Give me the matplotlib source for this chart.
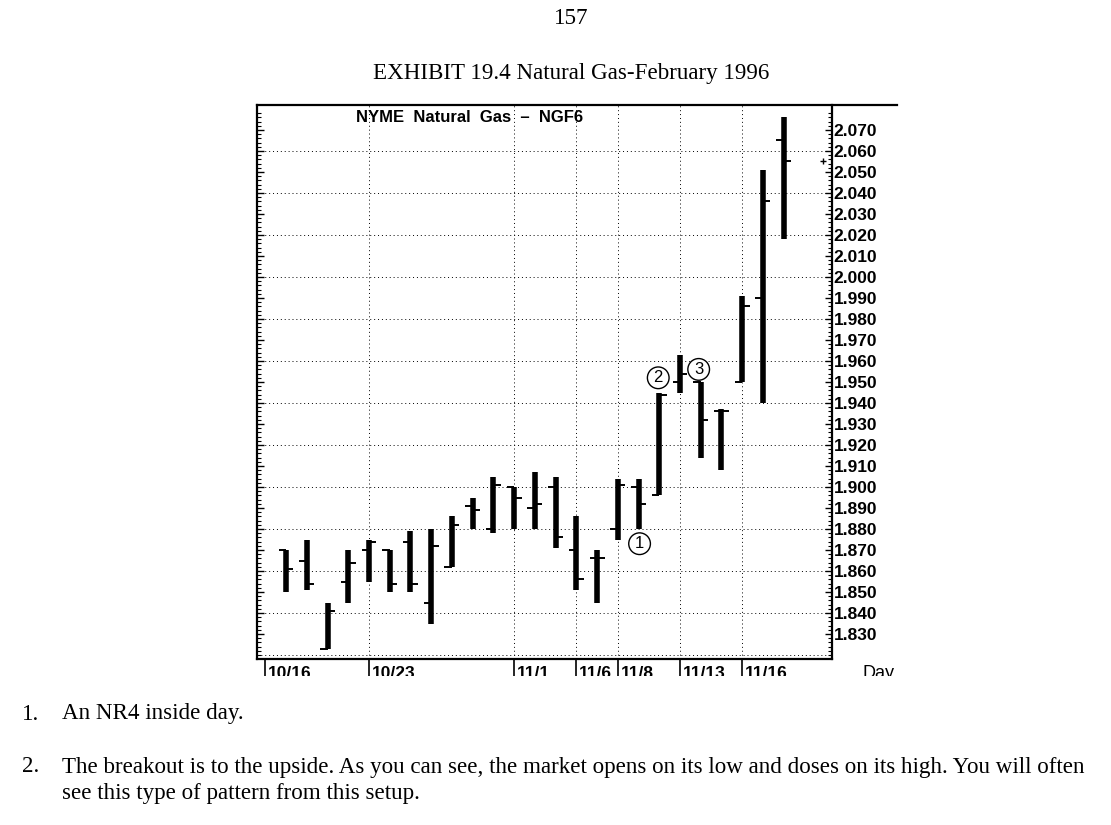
import matplotlib
matplotlib.use('Agg')
import matplotlib.pyplot as plt
import numpy as np
from matplotlib.patches import Rectangle
from matplotlib.lines import Line2D

# trading day index (0 = 10/16), one bar per day from 10/17
days = list(range(1, 26))
opens = [1.870, 1.865, 1.823, 1.855, 1.870, 1.870, 1.874, 1.845, 1.862, 1.891,
         1.880, 1.900, 1.890, 1.900, 1.870, 1.866, 1.880, 1.900, 1.896, 1.950,
         1.950, 1.936, 1.950, 1.990, 2.065]
highs = [1.870, 1.875, 1.845, 1.870, 1.875, 1.870, 1.879, 1.880, 1.886, 1.895,
         1.905, 1.900, 1.907, 1.905, 1.886, 1.870, 1.904, 1.904, 1.945, 1.963,
         1.950, 1.937, 1.991, 2.051, 2.076]
lows = [1.850, 1.851, 1.823, 1.845, 1.855, 1.850, 1.850, 1.835, 1.862, 1.880,
        1.878, 1.880, 1.880, 1.871, 1.851, 1.845, 1.875, 1.880, 1.896, 1.945,
        1.914, 1.908, 1.950, 1.940, 2.018]
closes = [1.861, 1.854, 1.841, 1.864, 1.874, 1.854, 1.854, 1.872, 1.882, 1.889,
          1.901, 1.895, 1.892, 1.876, 1.856, 1.866, 1.901, 1.892, 1.944, 1.954,
          1.932, 1.936, 1.986, 2.036, 2.055]

date_pos = [0, 5, 12, 15, 17, 20, 23]
date_labels = ['10/16', '10/23', '11/1', '11/6', '11/8', '11/13', '11/16']

# circled setup markers: (day, price, label)
marks = [(18.05, 1.873, '1'), (18.95, 1.952, '2'), (20.9, 1.956, '3')]
last_price = 2.055

serif = 'Liberation Serif'
sans = 'Liberation Sans'
fs_page = 16.6

fig = plt.figure(figsize=(11.11, 8.25), dpi=100)
ax = fig.add_axes([257 / 1111, 1 - 659 / 825, 575 / 1111, 554 / 825])

ax.set_xlim(-0.4, 27.33)
ax.set_ylim(1.8181, 2.0819)

# grid
for p in np.arange(1.82, 2.07, 0.02):
    ax.axhline(p, color='black', lw=0.7, ls=(0, (1, 3)), zorder=1)
for d in date_pos[1:]:
    ax.axvline(d, color='black', lw=0.7, ls=(0, (1, 3)), zorder=1)

# bars
ax.vlines(days, lows, highs, color='black', lw=4, zorder=3)
ax.hlines(opens, np.array(days) - 0.36, days, color='black', lw=1.4, zorder=3)
ax.hlines(closes, days, np.array(days) + 0.36, color='black', lw=1.4, zorder=3)

for d, p, t in marks:
    ax.text(d, p, t, ha='center', va='center', fontsize=12, family=sans,
            bbox=dict(boxstyle='circle,pad=0.2', fc='white', ec='black', lw=1), zorder=4)

ax.plot([26.9], [last_price], marker='+', color='black', ms=4, mew=1, clip_on=False)

ax.text(0.37, 0.977, 'NYME  Natural  Gas  \u2013  NGF6', transform=ax.transAxes,
        ha='center', va='center', fontsize=12, fontweight='bold', family=sans)

# axes styling
for s in ['top', 'right', 'left', 'bottom']:
    ax.spines[s].set_linewidth(1.6)
ax.spines['top'].set_visible(False)

ax.yaxis.set_ticks_position('both')
ax.set_yticks(np.round(np.arange(1.83, 2.071, 0.01), 3))
ax.set_yticks(np.arange(1.82, 2.08, 0.002), minor=True)
ax.tick_params(axis='y', which='both', direction='in', labelleft=False, labelright=True,
               left=True, right=True, pad=1)
ax.tick_params(axis='y', which='major', length=5, width=1)
ax.tick_params(axis='y', which='minor', length=3, width=0.8)
ax.yaxis.set_major_formatter(matplotlib.ticker.FormatStrFormatter('%.3f'))
for lbl in ax.get_yticklabels():
    lbl.set_family(sans)
    lbl.set_fontweight('bold')
    lbl.set_fontsize(12.5)

ax.set_xticks(date_pos)
ax.set_xticklabels(date_labels)
ax.tick_params(axis='x', direction='out', length=12, width=1.2, pad=-7)
offset = matplotlib.transforms.ScaledTranslation(3 / 100, 0, fig.dpi_scale_trans)
for lbl in ax.get_xticklabels():
    lbl.set_ha('left')
    lbl.set_family(sans)
    lbl.set_fontweight('bold')
    lbl.set_fontsize(12.5)
    lbl.set_transform(lbl.get_transform() + offset)
fig.text(862 / 1111, 1 - 673 / 825, 'Day', ha='left', va='center', fontsize=13, family=sans)

# top frame line running past the price scale
fig.add_artist(Line2D([257 / 1111, 897 / 1111], [1 - 105 / 825, 1 - 105 / 825],
                      color='black', lw=1.6, transform=fig.transFigure))

# scan cut-off under the date labels
fig.add_artist(Rectangle((240 / 1111, 1 - 700 / 825), 680 / 1111, 24 / 825,
                         transform=fig.transFigure, fc='white', ec='none', zorder=10))

fig.text(571 / 1111, 1 - 19 / 825, '157', ha='center', va='center', fontsize=fs_page, family=serif)
fig.text(571 / 1111, 1 - 74 / 825, 'EXHIBIT 19.4 Natural Gas-February 1996', ha='center',
         va='center', fontsize=fs_page, family=serif)

fig.text(22 / 1111, 1 - 714 / 825, '1.', ha='left', va='center', fontsize=fs_page, family=serif)
fig.text(62 / 1111, 1 - 714 / 825, 'An NR4 inside day.', ha='left', va='center',
         fontsize=fs_page, family=serif)
fig.text(22 / 1111, 1 - 767 / 825, '2.', ha='left', va='center', fontsize=fs_page, family=serif)
fig.text(62 / 1111, 1 - 767 / 825,
         'The breakout is to the upside. As you can see, the market opens on its low and doses '
         'on its high. You will often', ha='left', va='center', fontsize=fs_page, family=serif)
fig.text(62 / 1111, 1 - 793 / 825, 'see this type of pattern from this setup.', ha='left',
         va='center', fontsize=fs_page, family=serif)

fig.savefig('out.png', dpi=100)
